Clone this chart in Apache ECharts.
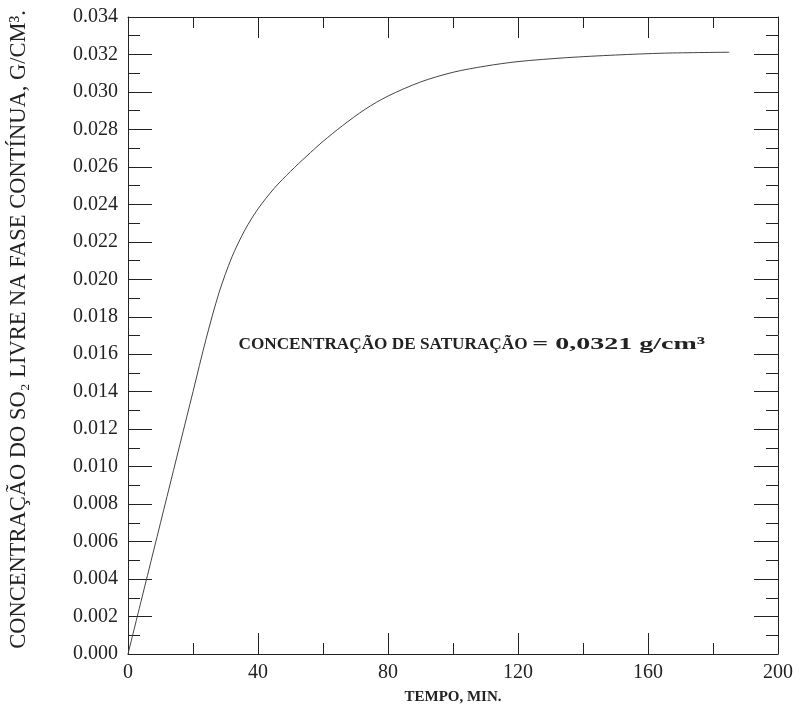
<!DOCTYPE html>
<html>
<head>
<meta charset="utf-8">
<script src="https://cdn.jsdelivr.net/npm/echarts@6/dist/echarts.min.js"></script>
<style>
  html, body { margin: 0; padding: 0; background: #fff; }
  #chart { width: 804px; height: 726px; }
</style>
</head>
<body>
<div id="chart"></div>
<script>
// tempo (min) e concentração (g/cm3)
const tempo = [0, 4, 8, 12, 16, 20, 24, 28, 32, 36, 40, 45, 50, 55, 60, 66, 73, 80, 90, 100, 110, 120, 135, 150, 165, 185];
const concentracao = [0, 0.0028, 0.0056, 0.0084, 0.0112, 0.0140, 0.0168, 0.01928, 0.0212, 0.02264, 0.02376, 0.02486, 0.02576, 0.02658, 0.02736, 0.0282, 0.02908, 0.02978, 0.03053, 0.03105, 0.03138, 0.03162, 0.03183, 0.03197, 0.03207, 0.03212];
const xTicks = [0, 40, 80, 120, 160, 200];
const yTicks = [0, 0.002, 0.004, 0.006, 0.008, 0.010, 0.012, 0.014, 0.016, 0.018, 0.020, 0.022, 0.024, 0.026, 0.028, 0.030, 0.032, 0.034];

const serif = '"Liberation Serif", "DejaVu Serif", serif';
const ink = '#222';

const chart = echarts.init(document.getElementById('chart'));

const lineStyle = { color: ink, width: 1 };

function xAx(pos, show) {
  return {
    type: 'value', position: pos, min: xTicks[0], max: xTicks[xTicks.length - 1], interval: 40,
    axisLine: { show: true, onZero: false, lineStyle: lineStyle },
    axisTick: { show: true, inside: true, length: 21, lineStyle: lineStyle },
    minorTick: { show: true, splitNumber: 2, length: 11, lineStyle: lineStyle },
    splitLine: { show: false },
    axisLabel: { show: show, color: ink, fontFamily: serif, fontSize: 20, margin: 9 },
    name: show ? 'TEMPO, MIN.' : '',
    nameLocation: 'middle', nameGap: 36,
    nameTextStyle: { color: ink, fontFamily: serif, fontSize: 15, fontWeight: 'bold' }
  };
}

function yAx(pos, show) {
  return {
    type: 'value', position: pos, min: yTicks[0], max: yTicks[yTicks.length - 1], interval: 0.002,
    axisLine: { show: true, onZero: false, lineStyle: lineStyle },
    axisTick: { show: true, inside: true, length: 24, lineStyle: lineStyle },
    minorTick: { show: true, splitNumber: 2, length: 12, lineStyle: lineStyle },
    splitLine: { show: false },
    axisLabel: { show: show, color: ink, fontFamily: serif, fontSize: 20, margin: 10,
      formatter: v => v.toFixed(3) },
    name: show ? 'CONCENTRAÇÃO DO SO₂ LIVRE NA FASE CONTÍNUA, G/CM³.' : '',
    nameLocation: 'middle', nameGap: 97,
    nameTextStyle: { color: ink, fontFamily: serif, fontSize: 22.5, padding: [0, 0, 0, 12] }
  };
}

chart.setOption({
  animation: false,
  backgroundColor: '#fff',
  grid: { left: 127, right: 26, top: 17, bottom: 72, containLabel: false },
  xAxis: [xAx('bottom', true), xAx('top', false)],
  yAxis: [yAx('left', true), yAx('right', false)],
  series: [{
    type: 'line',
    data: tempo.map((t, i) => [t, concentracao[i]]),
    smooth: 0.3,
    showSymbol: false,
    lineStyle: { color: '#444', width: 1 }
  }]
});

const p1 = chart.convertToPixel({ xAxisIndex: 0, yAxisIndex: 0 }, [34, 0.0165]);
const p2 = chart.convertToPixel({ xAxisIndex: 0, yAxisIndex: 0 }, [124.4, 0.0165]);
chart.setOption({
  graphic: [{
    type: 'text', x: p1[0], y: p1[1],
    style: {
      text: 'CONCENTRAÇÃO DE SATURAÇÃO',
      fill: ink, font: 'bold 17.2px ' + serif, textVerticalAlign: 'middle'
    }
  }, {
    type: 'text', x: p2[0], y: p2[1], scaleX: 1.6,
    style: {
      text: '= 0,0321 g/cm³',
      fill: ink, font: 'bold 17.5px ' + serif, textVerticalAlign: 'middle'
    }
  }]
});
</script>
</body>
</html>
